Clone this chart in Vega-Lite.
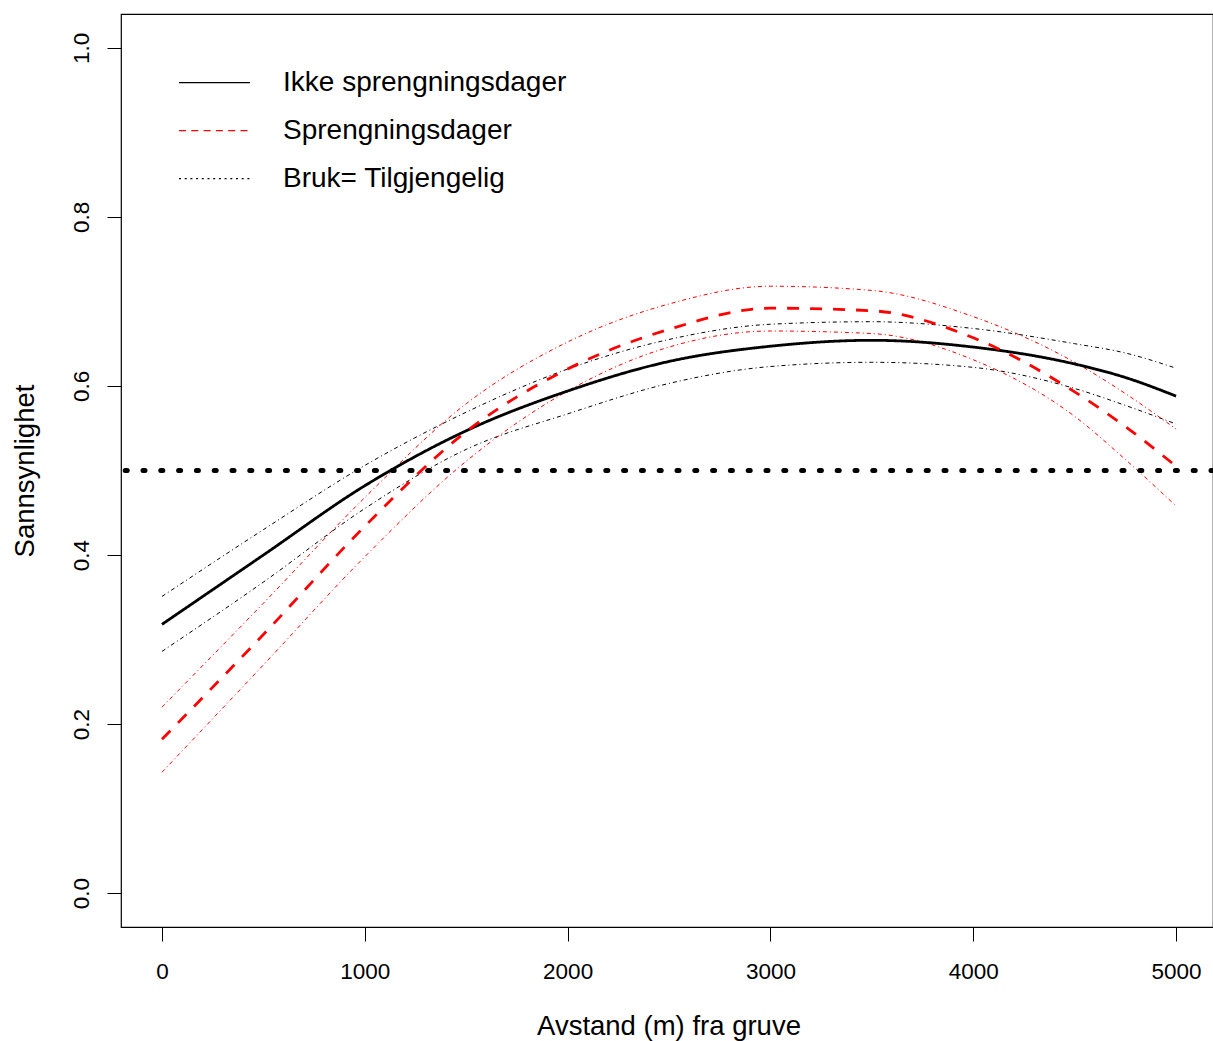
{
  "$schema": "https://vega.github.io/schema/vega-lite/v6.json",
  "width": 1092,
  "height": 913,
  "autosize": {"type": "none"},
  "padding": {"left": 121, "top": 14, "right": 0, "bottom": 114},
  "background": "white",
  "config": {
    "font": "Liberation Sans",
    "view": {"stroke": "black", "strokeWidth": 1.2},
    "axis": {"grid": false, "domain": false, "tickColor": "black", "tickSize": 14, "tickWidth": 1, "labelColor": "black", "titleColor": "black", "labelFont": "Liberation Sans", "titleFont": "Liberation Sans", "titleFontWeight": "normal"}
  },
  "datasets": {
    "curves": [
      {"d": 0, "serie": "Ikke sprengningsdager", "p": 0.318, "lo": 0.286, "hi": 0.351},
      {"d": 500, "serie": "Ikke sprengningsdager", "p": 0.400, "lo": 0.368, "hi": 0.430},
      {"d": 1000, "serie": "Ikke sprengningsdager", "p": 0.482, "lo": 0.455, "hi": 0.506},
      {"d": 1500, "serie": "Ikke sprengningsdager", "p": 0.547, "lo": 0.525, "hi": 0.569},
      {"d": 2000, "serie": "Ikke sprengningsdager", "p": 0.594, "lo": 0.567, "hi": 0.620},
      {"d": 2500, "serie": "Ikke sprengningsdager", "p": 0.629, "lo": 0.603, "hi": 0.655},
      {"d": 3000, "serie": "Ikke sprengningsdager", "p": 0.647, "lo": 0.623, "hi": 0.673},
      {"d": 3500, "serie": "Ikke sprengningsdager", "p": 0.654, "lo": 0.628, "hi": 0.676},
      {"d": 4000, "serie": "Ikke sprengningsdager", "p": 0.646, "lo": 0.622, "hi": 0.668},
      {"d": 4500, "serie": "Ikke sprengningsdager", "p": 0.626, "lo": 0.597, "hi": 0.650},
      {"d": 4750, "serie": "Ikke sprengningsdager", "p": 0.610, "lo": 0.577, "hi": 0.639},
      {"d": 5000, "serie": "Ikke sprengningsdager", "p": 0.588, "lo": 0.555, "hi": 0.621},
      {"d": 0, "serie": "Sprengningsdager", "p": 0.182, "lo": 0.143, "hi": 0.220},
      {"d": 500, "serie": "Sprengningsdager", "p": 0.306, "lo": 0.270, "hi": 0.343},
      {"d": 1000, "serie": "Sprengningsdager", "p": 0.434, "lo": 0.398, "hi": 0.468},
      {"d": 1500, "serie": "Sprengningsdager", "p": 0.546, "lo": 0.511, "hi": 0.579},
      {"d": 2000, "serie": "Sprengningsdager", "p": 0.620, "lo": 0.594, "hi": 0.652},
      {"d": 2500, "serie": "Sprengningsdager", "p": 0.667, "lo": 0.646, "hi": 0.697},
      {"d": 3000, "serie": "Sprengningsdager", "p": 0.692, "lo": 0.665, "hi": 0.718},
      {"d": 3500, "serie": "Sprengningsdager", "p": 0.689, "lo": 0.662, "hi": 0.713},
      {"d": 4000, "serie": "Sprengningsdager", "p": 0.657, "lo": 0.631, "hi": 0.682},
      {"d": 4500, "serie": "Sprengningsdager", "p": 0.593, "lo": 0.564, "hi": 0.628},
      {"d": 4750, "serie": "Sprengningsdager", "p": 0.552, "lo": 0.513, "hi": 0.591},
      {"d": 5000, "serie": "Sprengningsdager", "p": 0.505, "lo": 0.458, "hi": 0.549}
    ],
    "ref": [{"bruk": 0.5}]
  },
  "layer": [
    {
      "data": {"name": "curves"},
      "transform": [{"fold": ["lo", "hi"], "as": ["bound", "val"]}],
      "mark": {"type": "line", "strokeWidth": 1, "strokeDash": [4, 3, 1, 3], "interpolate": "monotone"},
      "encoding": {
        "x": {
          "field": "d", "type": "quantitative",
          "scale": {"domain": [-202, 5182], "nice": false, "zero": false},
          "axis": {"title": "Avstand (m) fra gruve", "values": [0, 1000, 2000, 3000, 4000, 5000], "format": "d", "labelFontSize": 22.5, "labelBaseline": "alphabetic", "labelPadding": 37, "titleFontSize": 27.5, "titleBaseline": "alphabetic", "titleX": 547.5, "titleY": 107, "titleAnchor": "middle", "labelFlush": false, "labelOverlap": false}
        },
        "y": {
          "field": "val", "type": "quantitative",
          "scale": {"domain": [-0.04, 1.04], "nice": false, "zero": false},
          "axis": {"title": "Sannsynlighet", "values": [0, 0.2, 0.4, 0.6, 0.8, 1.0], "format": ".1f", "labelFontSize": 22.5, "labelAngle": 270, "labelAlign": "center", "labelBaseline": "alphabetic", "labelPadding": 19, "titleFontSize": 27.5, "titleAngle": 270, "titleBaseline": "alphabetic", "titleAlign": "center", "titleX": -88, "titleY": 456.5, "labelOverlap": false}
        },
        "color": {
          "field": "serie", "type": "nominal",
          "scale": {"domain": ["Ikke sprengningsdager", "Sprengningsdager", "Bruk= Tilgjengelig"], "range": ["black", "#ff0000", "black"]},
          "legend": {
            "title": null, "orient": "none", "legendX": 57, "legendY": 51.7,
            "symbolType": "stroke", "symbolSize": 5041, "symbolStrokeWidth": 1.3,
            "labelFontSize": 28, "labelFont": "Liberation Sans", "labelColor": "black", "labelOffset": 32,
            "clipHeight": 34, "rowPadding": 14, "padding": 0, "labelLimit": 600,
            "encode": {"symbols": {"update": {"strokeDash": {"signal": "datum.value === 'Sprengningsdager' ? [7, 5.3] : datum.value === 'Bruk= Tilgjengelig' ? [2, 3.7] : [1, 0]"}, "strokeWidth": {"value": 1.3}}}}
          }
        },
        "detail": {"field": "bound"}
      }
    },
    {
      "data": {"name": "curves"},
      "mark": {"type": "line", "strokeWidth": 2.8, "interpolate": "monotone"},
      "encoding": {
        "x": {"field": "d", "type": "quantitative"},
        "y": {"field": "p", "type": "quantitative"},
        "color": {"field": "serie", "type": "nominal"},
        "strokeDash": {
          "field": "serie", "type": "nominal",
          "scale": {"domain": ["Ikke sprengningsdager", "Sprengningsdager"], "range": [[1, 0], [12, 11]]},
          "legend": null
        }
      }
    },
    {
      "data": {"name": "ref"},
      "mark": {"type": "rule", "strokeWidth": 5, "strokeDash": [2, 15.8], "strokeCap": "round", "color": "black"},
      "encoding": {"y": {"field": "bruk", "type": "quantitative"}}
    }
  ]
}
